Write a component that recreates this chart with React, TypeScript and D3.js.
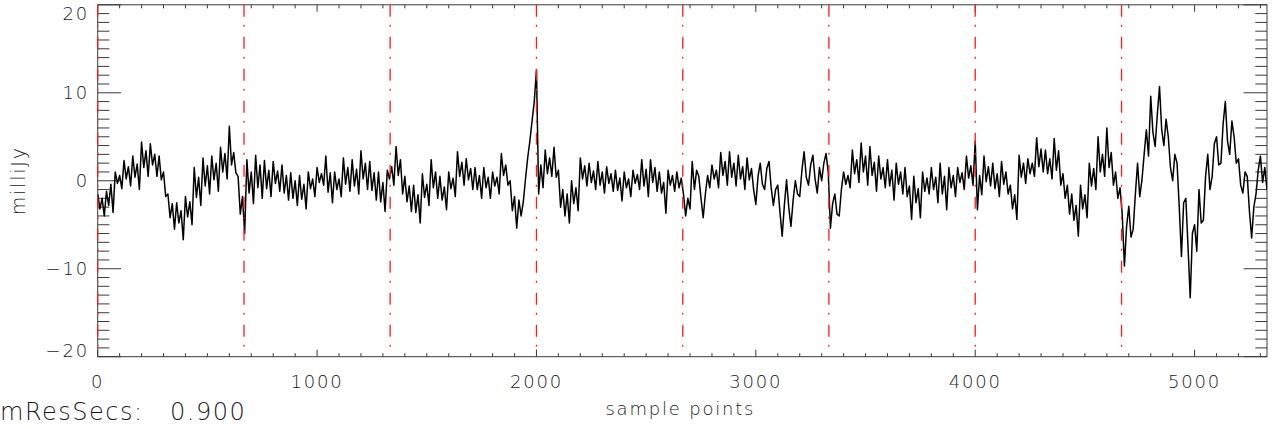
import React from 'react';
import * as d3 from 'd3';

const STEP = 10;
const signal: number[] = [
  // 0 - 190
  -1.5, -3.2, -2.0, -4.0, -1.2, -2.8, -0.4, -3.6, 1.0, -0.3, 0.6, -0.9, 2.3, 0.2, 1.6, -0.6, 2.8, 0.4, 1.9, -1.0,
  // 200 - 390
  4.4, 1.5, 3.4, 0.5, 4.2, 1.8, 3.0, 0.5, 2.8, 0.1, 1.0, -1.8, -1.5, -4.2, -2.6, -5.5, -2.5, -4.8, -3.4, -6.7,
  // 400 - 590
  -1.8, -4.1, -2.4, -5.0, 1.5, -1.9, 0.4, -2.8, 2.6, -0.6, 1.7, -1.5, 2.8, 0.1, 2.0, -1.2, 3.8, 1.0, 3.1, 0.2,
  // 600 - 790
  6.2, 1.8, 3.2, 0.9, 0.5, -3.8, -1.8, -6.0, 2.4, -1.4, 1.0, -2.6, 2.9, -0.8, 1.8, -2.0, 2.3, -0.9, 1.2, -1.8,
  // 800 - 990
  2.2, -0.3, 1.1, -1.2, 1.8, -1.4, 0.6, -2.2, 0.9, -2.0, 0.0, -2.8, 0.6, -2.1, -0.4, -3.2, 1.0, -0.9, 0.2, -1.8,
  // 1000 - 1190
  1.5, -0.2, 0.8, -0.5, 2.8, -1.3, 0.9, -2.5, 1.0, -1.0, 0.2, -1.8, 2.6, -0.4, 1.5, -1.2, 2.4, -0.6, 1.3, -1.5,
  // 1200 - 1390
  3.4, 0.2, 2.0, -1.0, 2.2, -1.1, 0.9, -2.2, 1.0, -2.4, -0.2, -3.5, 1.2, 0.2, 1.6, -0.5, 3.9, 0.6, 2.4, -1.5,
  // 1400 - 1590
  0.5, -2.4, -0.6, -3.5, -0.5, -3.6, -1.6, -4.8, 0.8, -1.9, -0.4, -2.8, 2.4, -0.8, 1.0, -2.0, 0.5, -2.2, -0.7, -3.3,
  // 1600 - 1790
  1.0, -0.9, 0.3, -1.8, 3.3, 0.5, 2.1, -0.5, 2.5, 0.1, 1.4, -1.0, 1.5, -1.0, 0.6, -2.0, 1.5, -0.8, 0.4, -2.0,
  // 1800 - 1990
  1.0, -0.6, 0.4, -1.5, 3.1, 0.6, 1.8, -0.5, 0.0, -3.4, -1.8, -5.4, -2.2, -4.0, -2.4, 0.2, 2.6, 4.5, 6.8, 9.0,
  // 2000 - 2190
  12.6, -1.5, 1.8, -0.8, 3.5, 0.8, 2.6, 0.5, 3.8, 0.4, 1.2, -3.0, -1.0, -4.0, -1.5, -4.8, 0.0, -2.6, -0.8, -3.4,
  // 2200 - 2390
  2.6, 0.2, 1.7, -0.6, 2.0, -0.2, 1.1, -1.0, 2.2, -0.5, 1.0, -1.4, 1.6, -0.3, 0.8, -1.2, 1.2, -1.1, 0.3, -2.3,
  // 2400 - 2590
  1.0, -0.8, 0.2, -1.8, 1.2, -0.3, 0.7, -1.0, 2.4, -0.6, 1.3, -1.8, 2.4, -0.2, 1.5, -1.2, 1.0, -1.4, -0.2, -3.7,
  // 2600 - 2790
  1.2, -0.5, 0.6, -1.2, 1.0, -0.8, 0.3, -1.5, -4.0, -2.0, -3.2, 2.2, -1.0, 1.2, 0.5, -2.0, -4.2, -1.5, 0.6, -0.8,
  // 2800 - 2990
  1.8, 0.2, 1.2, -0.8, 3.2, 0.6, 2.2, -0.5, 3.3, 0.4, 2.0, -0.6, 2.9, 0.2, 1.6, -1.0, 2.6, 0.1, 1.4, -1.0,
  // 3000 - 3190
  -2.7, 0.5, 2.0, -0.4, -1.0, 1.4, 2.2, -0.8, -2.8, -1.0, -0.5, -3.6, -6.3, -2.8, 0.1, -3.0, -5.2, -2.2, 0.0, -1.5,
  // 3200 - 3390
  -1.8, 1.2, 3.3, 0.4, -0.5, 1.8, 2.9, 0.2, -1.4, 1.5, 0.0, 2.0, 3.1, 1.0, -5.4, -2.6, -1.5, -3.8, -4.0, -1.0,
  // 3400 - 3590
  1.0, -0.4, 0.6, -0.8, 3.5, 0.8, 2.4, -0.2, 4.3, 1.0, 2.8, -0.5, 3.9, 0.6, 2.1, -1.2, 2.8, 0.2, 1.5, -0.8,
  // 3600 - 3790
  2.4, -0.6, 1.2, -2.2, 2.0, -0.4, 1.0, -1.5, 1.5, -1.8, -0.6, -4.4, 0.5, -2.5, -0.9, -4.2, 1.0, -1.2, 0.3, -1.5,
  // 3800 - 3990
  1.5, -1.0, 0.4, -2.5, 2.0, -1.5, 0.5, -3.3, 1.5, -0.8, 0.6, -1.8, 1.5, -0.2, 0.9, -1.0, 2.8, 0.3, 1.7, -0.5,
  // 4000 - 4190
  4.5, -3.3, 0.6, -1.6, 2.8, -0.1, 1.6, -0.6, 2.0, -0.9, 0.8, -1.8, 2.2, -0.4, 1.0, -1.5, -0.5, -3.2, -1.6, -4.4,
  // 4200 - 4390
  2.9, 0.4, 2.0, -0.3, 2.5, 0.8, 2.0, 0.5, 4.9, 1.6, 3.6, 1.0, 3.5, 0.8, 2.5, 0.2, 4.8, 1.2, 3.4, -0.5,
  // 4400 - 4590
  0.8, -2.0, -0.5, -3.8, -1.5, -4.5, -2.8, -6.3, -0.5, -3.2, -1.6, -4.2, 2.0, -0.6, 1.4, -1.0, 5.0, 1.0, 3.0, 0.5,
  // 4600 - 4790
  6.0, 1.5, 3.2, -0.5, 1.0, -2.0, -0.8, -3.8, -9.7, -5.2, -2.9, -6.4, -5.5, -1.5, 2.0, -1.8, 0.1, 3.0, 5.8, 2.8,
  // 4800 - 4990
  9.6, 5.5, 3.9, 7.5, 10.7, 5.8, 4.0, 7.0, 5.0, 1.5, 0.0, 3.0, 2.0, -3.0, -8.6, -2.5, -2.0, -7.5, -13.3, -6.0,
  // 5000 - 5190
  -5.0, -8.0, -1.0, -4.8, -4.5, 0.5, 3.0, -1.0, 0.5, 4.2, 5.0, 1.8, 2.0, 6.5, 9.0, 4.5, 3.0, 6.8, 5.0, 2.0,
  // 5200 - 5330
  2.5, -0.5, -1.4, 1.0, 0.5, -3.5, -6.5, -3.0, -1.5, 1.2, 2.8, -0.2, 1.5, -1.0,
];

const markers = [0, 667, 1333, 2000, 2667, 3333, 4000, 4667];
const xLabels = [0, 1000, 2000, 3000, 4000, 5000];
const yLabels = [-20, -10, 0, 10, 20];
const xTitle = 'sample points';
const yTitle = 'milliJy';
const resName = 'mResSecs:';
const resValue = '0.900';

const W = 1273;
const H = 429;
const left = 97.7, right = 1267, top = 4.8, bottom = 356.7;

const font = {
  fontFamily: '"DejaVu Sans", sans-serif',
  fontWeight: 200,
  fill: '#1a1a1a',
} as const;

const axisColor = '#3a3a3a';

export default function App() {
  const x = d3.scaleLinear().domain([0, 5330]).range([left, right]);
  const y = d3.scaleLinear().domain([-20, 20]).range([bottom, top]);

  const line = d3
    .line<number>()
    .x((_, i) => x(i * STEP))
    .y(d => y(d));

  const xMinor = d3.range(0, 5330, 100);
  const yMinor = d3.range(-20, 21, 1);
  const xLen = (bottom - top) * 0.02;
  const yLen = (right - left) * 0.02;

  const fmt = (v: number) => (v < 0 ? '\u2212' : '') + Math.abs(v);

  return (
    <svg
      width={W}
      height={H}
      style={{position: 'absolute', left: 0, top: 0, background: '#fff'}}>
      <defs>
        <clipPath id="plot">
          <rect x={left} y={top} width={right - left} height={bottom - top} />
        </clipPath>
      </defs>

      {/* box */}
      <rect
        x={left}
        y={top}
        width={right - left}
        height={bottom - top}
        fill="none"
        stroke={axisColor}
        strokeWidth={1}
      />

      {/* x ticks, bottom and top */}
      {xMinor.map(t => {
        const len = t % 1000 === 0 ? xLen : xLen / 2;
        return (
          <g key={'xt' + t} stroke={axisColor} strokeWidth={1}>
            <line x1={x(t)} x2={x(t)} y1={bottom} y2={bottom - len} />
            <line x1={x(t)} x2={x(t)} y1={top} y2={top + len} />
          </g>
        );
      })}

      {/* y ticks, left and right */}
      {yMinor.map(t => {
        const len = t % 10 === 0 ? yLen : yLen / 2;
        return (
          <g key={'yt' + t} stroke={axisColor} strokeWidth={1}>
            <line x1={left} x2={left + len} y1={y(t)} y2={y(t)} />
            <line x1={right} x2={right - len} y1={y(t)} y2={y(t)} />
          </g>
        );
      })}

      {/* data trace */}
      <path
        d={line(signal) || ''}
        fill="none"
        stroke="#000"
        strokeWidth={1.5}
        strokeLinejoin="round"
        clipPath="url(#plot)"
      />

      {/* segment markers */}
      {markers.map(m => (
        <line
          key={'m' + m}
          x1={x(m)}
          x2={x(m)}
          y1={top}
          y2={bottom}
          stroke="#ff1a1a"
          strokeWidth={1.3}
          strokeDasharray="12 8 2 10"
        />
      ))}

      {/* tick labels */}
      {xLabels.map(t => (
        <text
          key={'xl' + t}
          x={x(t)}
          y={388}
          textAnchor="middle"
          fontSize={18}
          letterSpacing={1.8}
          {...font}>
          {t}
        </text>
      ))}
      {yLabels.map(t => {
        const cy = Math.max(top + 9, Math.min(bottom - 6, y(t)));
        return (
          <text
            key={'yl' + t}
            x={89}
            y={cy}
            dy="0.36em"
            textAnchor="end"
            fontSize={18}
            letterSpacing={1.8}
            {...font}>
            {fmt(t)}
          </text>
        );
      })}

      {/* titles */}
      <text
        x={(left + right) / 2 - 2}
        y={415}
        textAnchor="middle"
        fontSize={18}
        letterSpacing={1.8}
        {...font}>
        {xTitle}
      </text>
      <text
        transform={`translate(25, ${y(0)}) rotate(-90)`}
        textAnchor="middle"
        fontSize={19}
        letterSpacing={1.8}
        {...font}>
        {yTitle}
      </text>

      <text x={0} y={420} fontSize={24} letterSpacing={1.5} {...font}>
        {resName}
      </text>
      <text x={170} y={420} fontSize={24} letterSpacing={1.5} {...font}>
        {resValue}
      </text>
    </svg>
  );
}
